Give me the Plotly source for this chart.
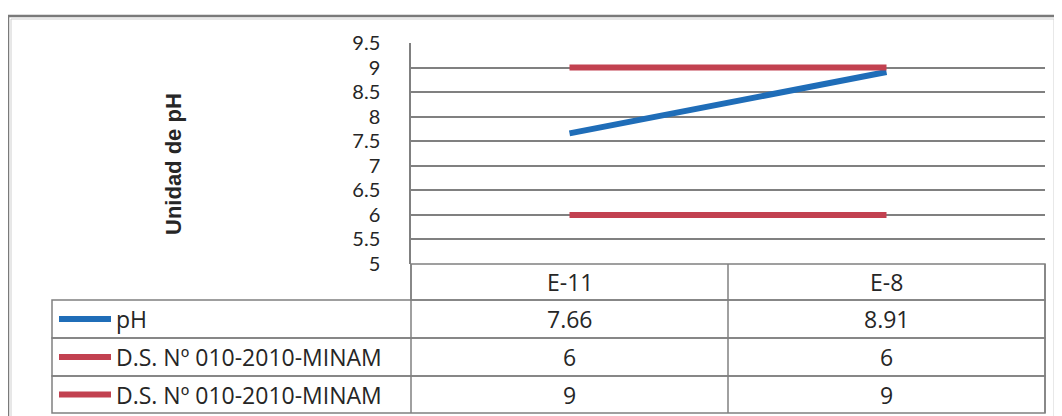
import plotly.graph_objects as go

# ---- data ----
categories = ["E-11", "E-8"]
series_names = ["pH", "D.S. Nº 010-2010-MINAM", "D.S. Nº 010-2010-MINAM"]
ph_values = [7.66, 8.91]
lim_min_values = [6, 6]
lim_max_values = [9, 9]
series_values = [ph_values, lim_min_values, lim_max_values]
series_colors = ["#1f6db8", "#c24150", "#c24150"]
y_ticks = [5, 5.5, 6, 6.5, 7, 7.5, 8, 8.5, 9, 9.5]
y_title = "Unidad de pH"

# ---- geometry (page pixels; page body has an 8px margin) ----
OFF = 8
FW, FH = 1062 - OFF, 416 - OFF
L, R, T, B = 411 - OFF, 1045 - OFF, 43 - OFF, 264 - OFF
PW, PH = R - L, B - T


def xp(X):
    return (X - OFF - L) / PW


def yp(Y):
    return (B - (Y - OFF)) / PH


FONT = "Open Sans"
TXT = "#262626"
GRID = "#808080"
TSIZE = 23

fig = go.Figure()
for name, vals, col in zip(series_names, series_values, series_colors):
    fig.add_trace(go.Scatter(
        x=categories, y=vals, mode="lines", name=name,
        line=dict(color=col, width=6), showlegend=False, hoverinfo="x+y"))

shapes = []
annotations = []

header_bottom = 300
row_bounds = [300, 338, 376, 413]
legend_left = 52
n = len(categories)

# header row box
shapes.append(dict(type="rect", xref="paper", yref="paper", x0=0, x1=1,
                   y0=yp(header_bottom), y1=0, line=dict(color=GRID, width=1.5)))
# data rows
for i in range(len(series_names)):
    shapes.append(dict(type="rect", xref="paper", yref="paper",
                       x0=xp(legend_left), x1=1,
                       y0=yp(row_bounds[i + 1]), y1=yp(row_bounds[i]),
                       line=dict(color=GRID, width=1.5)))
# column dividers
for k in range(n + 1):
    shapes.append(dict(type="line", xref="paper", yref="paper",
                       x0=k / n, x1=k / n, y0=yp(row_bounds[-1]), y1=0,
                       line=dict(color=GRID, width=1.5)))

# header labels
for c in categories:
    annotations.append(dict(xref="x", yref="paper", x=c,
                            y=yp((264 + header_bottom) / 2), text=c,
                            xanchor="center", yanchor="middle", showarrow=False,
                            font=dict(family=FONT, size=TSIZE, color=TXT)))
# rows
for i, (name, vals, col) in enumerate(zip(series_names, series_values, series_colors)):
    yc = yp((row_bounds[i] + row_bounds[i + 1]) / 2)
    shapes.append(dict(type="line", xref="paper", yref="paper",
                       x0=xp(59), x1=xp(111), y0=yc, y1=yc,
                       line=dict(color=col, width=6)))
    annotations.append(dict(xref="paper", yref="paper", x=xp(114), y=yc,
                            text=name, xanchor="left", yanchor="middle", showarrow=False,
                            font=dict(family=FONT, size=TSIZE, color=TXT)))
    for c, v in zip(categories, vals):
        annotations.append(dict(xref="x", yref="paper", x=c, y=yc,
                                text=f"{v:g}", xanchor="center", yanchor="middle",
                                showarrow=False,
                                font=dict(family=FONT, size=TSIZE, color=TXT)))

# y title
annotations.append(dict(xref="paper", yref="paper", x=xp(173), y=yp(164),
                        text=f"<b>{y_title}</b>", textangle=-90, showarrow=False,
                        xanchor="center", yanchor="middle",
                        font=dict(family="Liberation Sans", size=22, color=TXT)))

# outer frame (double line)
shapes.append(dict(type="rect", xref="paper", yref="paper",
                   x0=xp(8), x1=xp(1057), y0=yp(440), y1=yp(16),
                   line=dict(color="#7a7a7a", width=2.5)))
shapes.append(dict(type="rect", xref="paper", yref="paper",
                   x0=xp(11), x1=xp(1054), y0=yp(440), y1=yp(19),
                   line=dict(color="#d0d0d0", width=1)))

fig.update_layout(
    width=FW, height=FH,
    margin=dict(l=L, r=FW - R, t=T, b=FH - B),
    paper_bgcolor="white", plot_bgcolor="white",
    shapes=shapes, annotations=annotations,
    font=dict(family=FONT, size=TSIZE, color=TXT),
)
fig.update_xaxes(type="category", range=[-0.5, n - 0.5], showticklabels=False,
                 showgrid=False, zeroline=False, showline=False, ticks="")
fig.update_yaxes(range=[5, 9.5], tickvals=y_ticks, ticktext=[f"{t:g}" for t in y_ticks],
                 showgrid=True, gridcolor=GRID, gridwidth=1.5, zeroline=False,
                 showline=True, linecolor=GRID, linewidth=1.5, mirror=False,
                 ticks="", ticklabelstandoff=25,
                 tickfont=dict(family="Lato", size=20, color=TXT))

fig.write_html("out.html")
